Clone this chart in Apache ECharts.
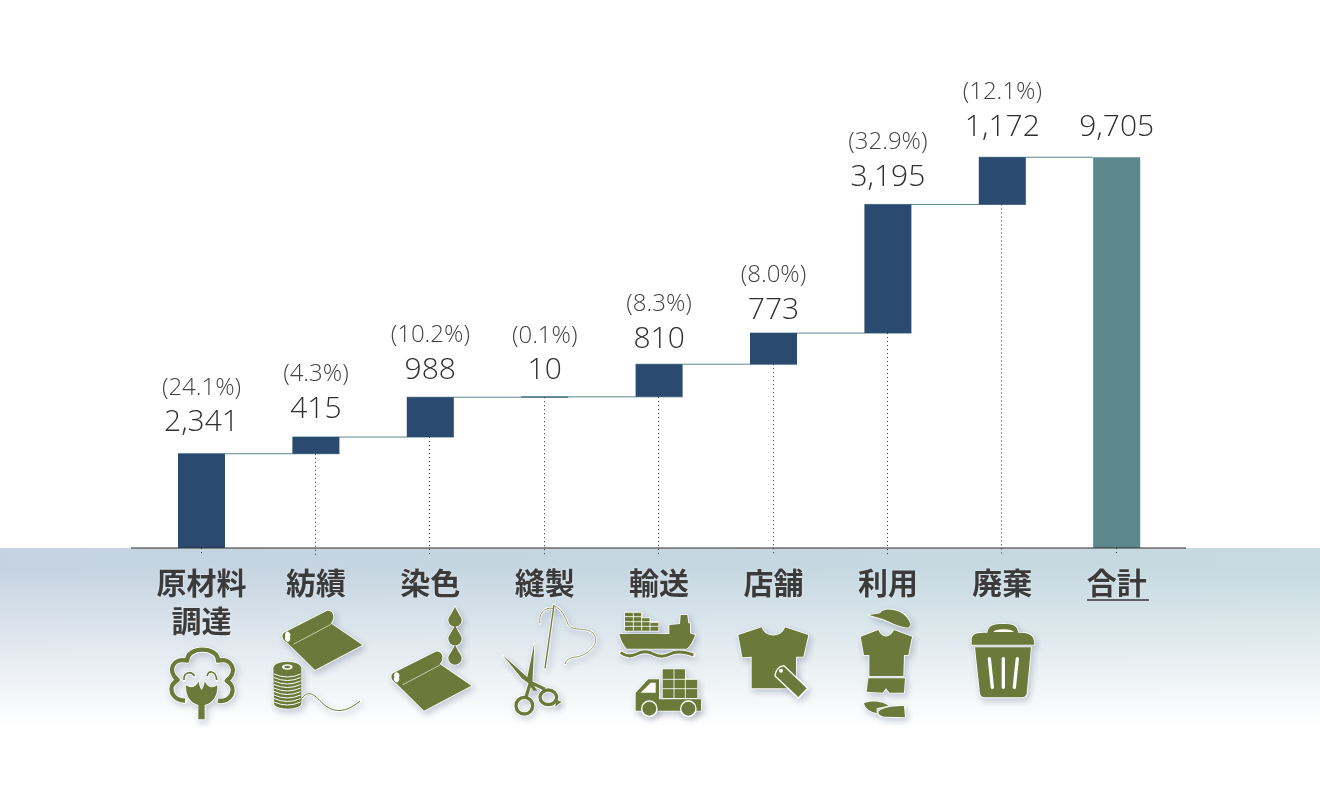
<!DOCTYPE html>
<html><head><meta charset="utf-8">
<style>html,body{margin:0;padding:0;background:#fff}#c{width:1320px;height:800px}</style>
<script src="https://cdn.jsdelivr.net/npm/echarts@6/dist/echarts.min.js"></script>
</head><body><div id="c"></div>
<script>
const categories = ['原材料\n調達','紡績','染色','縫製','輸送','店舗','利用','廃棄','合計'];
const values = [2341,415,988,10,810,773,3195,1172,9705];
const shares = ['(24.1%)','(4.3%)','(10.2%)','(0.1%)','(8.3%)','(8.0%)','(32.9%)','(12.1%)',''];
const totalIndex = 8;
const labelNudgeY = [-6,-3,-2,-1,0,2,-2,-5,-5];

const NAVY='#2a4a6f', TEAL='#5c878c', OLIVE='#6b7a3a';
const bases=[]; const tops=[]; let run=0;
values.forEach((v,i)=>{ if(i===totalIndex){bases.push(0);tops.push(v);} else {bases.push(run);run+=v;tops.push(run);} });

function drop(x,y){return `M${x} ${y-36}C${x+8} ${y-18} ${x+20} ${y-4} ${x+20} ${y+4}A20 20 0 0 1 ${x-20} ${y+4}C${x-20} ${y-4} ${x-8} ${y-18} ${x} ${y-36}Z`;}
function roll(dx,dy){const p=(x,y)=>(x+dx)+' '+(y+dy);return {
  sheet:`M${p(462,278)}L${p(590,213)}C${p(612,208)} ${p(616,238)} ${p(602,250)}L${p(697,315)}L${p(555,390)}L${p(470,306)}C${p(456,300)} ${p(454,284)} ${p(462,278)}Z`,
  line:`M${p(490,313)}L${p(603,253)}`, hole:`M${p(466,290)}a8 10 0 1 0 14 0a8 10 0 1 0 -14 0Z`};}
const r1=roll(0,0), r2=roll(327,122);
const spoolLines=[];for(let y=402;y<=490;y+=10.5)spoolLines.push(`M432 ${y}Q472 ${y+18} 512 ${y}`);

// Decorative pictograms, traced in 3x crop units: [originX, originY, pieces]
const icons=[
 [130,540,[
  {s:OLIVE,w:13,d:'M165 482C126 482 108 440 143 420C110 392 128 352 172 362C170 318 264 318 264 362C306 352 326 395 290 422C326 445 302 490 264 482'},
  {s:OLIVE,w:5,d:'M162 420C160 398 182 390 194 408M232 408C232 390 258 390 260 420'},
  {f:OLIVE,d:'M205 538L205 495C183 490 166 468 168 436C184 446 196 444 206 424C208 440 212 446 215 450C218 446 222 440 224 424C234 444 246 446 262 436C264 468 247 490 224 495L224 538Z'},
  {f:OLIVE,d:r1.sheet},{s:'#c3ccaa',w:3,d:r1.line,nohalo:1},{f:'#fff',d:r1.hole,nohalo:1},
  {f:OLIVE,d:'M430 385A42 20 0 0 1 514 385L514 492A42 18 0 0 1 432 492Z'},
  {s:'#fff',w:3,d:spoolLines.join(''),nohalo:1},
  {f:'#fff',d:'M456 381a16 8 0 1 0 32 0a16 8 0 1 0 -32 0Z',nohalo:1},
  {f:OLIVE,d:'M463 381a9 4 0 1 0 18 0a9 4 0 1 0 -18 0Z',nohalo:1},
  {s:OLIVE,w:3,d:'M512 480C530 450 550 460 570 482C600 516 640 526 690 483'},
  {f:OLIVE,d:r2.sheet},{s:'#c3ccaa',w:3,d:r2.line,nohalo:1},{f:'#fff',d:r2.hole,nohalo:1},
  {f:OLIVE,d:drop(975,236)},{f:OLIVE,d:drop(975,292)},{f:OLIVE,d:drop(975,350)}
 ]],
 [490,540,[
  {f:OLIVE,d:'M38 345L112 412L133 310L127 430L142 452L130 452L115 430L95 415Z'},
  {s:OLIVE,w:10,d:'M120 432L108 472M118 425L165 448'},
  {s:OLIVE,w:10,d:'M128 497a25 25 0 1 0 -50 0a25 25 0 1 0 50 0ZM200 472a25 22 0 1 0 -50 0a25 22 0 1 0 50 0Z'},
  {f:OLIVE,d:'M200 480L215 485L195 500Z'},
  {s:OLIVE,w:4,d:'M192 195L165 385'},
  {s:'#8f9b62',w:3,d:'M190 205C160 200 145 225 150 250M192 198C215 205 225 230 235 255C250 275 290 260 310 280C330 310 300 340 265 350C245 352 230 355 225 372'},
  {f:OLIVE,d:'M388 282L538 282L538 255L570 252L572 225L592 225L595 250L600 250L600 280L615 285C610 300 600 320 590 326L410 326Q395 310 388 282Z'},
  {f:OLIVE,d:'M405 218L455 218L455 235L480 235L480 248L505 248L505 272L405 272Z'},
  {s:'#fff',w:2.5,d:'M405 230L455 230M405 245L505 245M405 259L505 259M430 218L430 272M455 218L455 272M480 235L480 272',nohalo:1},
  {s:OLIVE,w:9,d:'M392 338Q415 355 440 342T490 342T540 342T610 345'},
  {f:OLIVE,d:'M437 512L437 458L475 418L507 418L507 478L633 478L633 512Z'},
  {f:'#fff',d:'M452 458L482 428L497 428L497 458Z',nohalo:1},
  {f:OLIVE,d:'M518 418L518 388L585 388L585 418L622 418L622 474L518 474Z'},
  {s:'#fff',w:2.5,d:'M518 418L622 418M518 446L622 446M552 388L552 474M586 418L586 474',nohalo:1},
  {f:OLIVE,d:'M455 506a23 23 0 1 0 46 0a23 23 0 1 0 -46 0ZM572 506a23 23 0 1 0 46 0a23 23 0 1 0 -46 0Z',st:'#fff',sw:4},
  {f:OLIVE,d:'M745 285L815 262C825 295 875 295 885 262L955 285L940 350L918 350L918 445L785 445L785 350L757 352Z'},
  {f:OLIVE,st:'#fff',sw:4,d:'M855 408Q858 380 882 377L953 445L925 474Z'},
  {f:'#fff',d:'M867 392a6 6 0 1 0 12 0a6 6 0 1 0 -12 0Z',nohalo:1}
 ]],
 [830,540,[
  {f:OLIVE,d:'M150 220C160 198 230 205 242 255L235 263C205 262 170 240 150 235L117 225Z'},
  {f:OLIVE,d:'M92 290L145 270C155 296 180 296 192 270L246 290L235 345L222 345L220 408L118 408L118 345L102 345Z'},
  {f:OLIVE,d:'M115 415L225 415L222 458L178 458L168 445L158 458L110 455Z'},
  {f:OLIVE,d:'M102 490C125 480 160 485 175 497L140 505L140 520C120 515 105 505 102 490Z'},
  {f:OLIVE,d:'M145 515C160 500 195 498 222 498L225 532L170 530C155 530 145 525 145 515Z'},
  {f:OLIVE,d:'M425 314L425 300C425 280 440 278 472 278C476 255 490 252 520 252C550 252 560 255 565 278C600 278 613 285 613 314Z'},
  {f:'#fff',d:'M490 276Q495 268 520 268Q545 268 552 276Z',nohalo:1},
  {f:OLIVE,d:'M435 322L603 322L590 460Q588 472 575 472L465 472Q452 472 450 460Z'},
  {s:'#fff',w:10,d:'M478 356L487 442M520 356L520 442M562 356L553 442',nohalo:1,cap:'round'}
 ]]
];

function renderIcons(params,api){
  const ic=icons[params.dataIndex]; const children=[];
  ic[2].forEach(p=>{ if(p.nohalo) return;
    children.push({type:'path',shape:{pathData:p.d},style:{fill:p.f?'#fff':null,stroke:'#fff',lineWidth:(p.w||0)+5,lineJoin:'round',lineCap:'round',
      shadowBlur:6,shadowColor:'rgba(40,50,90,.22)',shadowOffsetX:2,shadowOffsetY:3}});
  });
  ic[2].forEach(p=>{
    children.push({type:'path',shape:{pathData:p.d},style:{fill:p.f||null,stroke:p.s||p.st||null,lineWidth:p.w||p.sw||0,lineJoin:'round',lineCap:p.cap||'butt'}});
  });
  return {type:'group',x:ic[0],y:ic[1],scaleX:1/3,scaleY:1/3,children};
}

function renderLinks(params,api){
  const i=params.dataIndex; const bw=47; const children=[];
  const cx=api.coord([i,0])[0];
  const y0=api.coord([i,0])[1];
  const yb=api.coord([i,bases[i]])[1];
  const dx=Math.round(cx-1)+.5;
  children.push({type:'line',shape:{x1:dx,y1:yb,x2:dx,y2:y0+8},style:{stroke:'#333',lineWidth:1,lineDash:[1,3]}});
  if(i<values.length-1){
    const yt=api.coord([i,tops[i]])[1];
    const nx=api.coord([i+1,0])[0];
    const end=(i+1===totalIndex)?nx-bw/2:nx+bw/2;
    children.push({type:'line',shape:{x1:cx-bw/2,y1:yt,x2:end,y2:yt},style:{stroke:TEAL,lineWidth:1}});
  }
  return {type:'group',children};
}

const chart=echarts.init(document.getElementById('c'),null,{renderer:'canvas',width:1320,height:800});
chart.setOption({
  animation:false,
  backgroundColor:'#fff',
  textStyle:{fontFamily:'"Open Sans","Noto Sans",sans-serif'},
  grid:{left:144.3,width:1029.6,top:64.8,height:483.2,containLabel:false},
  xAxis:{type:'category',data:categories,axisLine:{show:false},axisTick:{show:false},z:5,
    axisLabel:{margin:16,interval:0,fontFamily:'"Noto Sans CJK JP"',fontWeight:'bold',fontSize:30,lineHeight:38,color:'#3b3b3b',verticalAlign:'top',
      textShadowColor:'rgba(255,255,255,.6)',textShadowBlur:2}},
  yAxis:{type:'value',min:0,max:12000,show:false},
  graphic:{elements:[
    {type:'rect',z:-10,shape:{x:0,y:548,width:1320,height:190},style:{fill:new echarts.graphic.LinearGradient(0,0,1,0,[{offset:0,color:'#c5d3e1'},{offset:1,color:'#c6dae0'}])}},
    {type:'rect',z:-9,shape:{x:0,y:548,width:1320,height:192},style:{fill:new echarts.graphic.LinearGradient(0,0,0,1,[{offset:0,color:'rgba(255,255,255,0)'},{offset:.1,color:'rgba(255,255,255,0)'},{offset:.93,color:'rgba(255,255,255,1)'},{offset:1,color:'rgba(255,255,255,1)'}])}},
    {type:'line',z:4,shape:{x1:131,y1:548,x2:1186,y2:548},style:{stroke:'#2e2e2e',lineWidth:1.2}},
    {type:'line',z:4,shape:{x1:1087,y1:600,x2:1149,y2:600},style:{stroke:'#333',lineWidth:1.6}}
  ]},
  series:[
    {type:'bar',stack:'w',barWidth:47,silent:true,data:bases,itemStyle:{color:'rgba(0,0,0,0)'}},
    {type:'bar',stack:'w',barWidth:47,silent:true,z:3,
      data:values.map((v,i)=>({value:v,itemStyle:{color:i===totalIndex?TEAL:NAVY},label:{offset:[0,labelNudgeY[i]]}})),
      label:{show:true,position:'top',distance:6,color:'#333',
        formatter:p=>{const s=shares[p.dataIndex];const t=p.value.toLocaleString('en-US');return (s?`{p|${s}}\n`:'')+`{v|${t}}`;},
        rich:{p:{fontSize:24,lineHeight:32,fontWeight:300,color:'#444',fontFamily:'"Open Sans"'},
              v:{fontSize:30,lineHeight:38,fontWeight:300,color:'#2f2f2f',fontFamily:'"Open Sans"'}}}},
    {type:'custom',silent:true,z:2,renderItem:renderLinks,data:values.map((v,i)=>[i,v]),encode:{x:0,y:1}},
    {type:'custom',silent:true,z:4,coordinateSystem:'none',renderItem:renderIcons,data:icons.map((c,i)=>i)}
  ]
});
</script></body></html>
